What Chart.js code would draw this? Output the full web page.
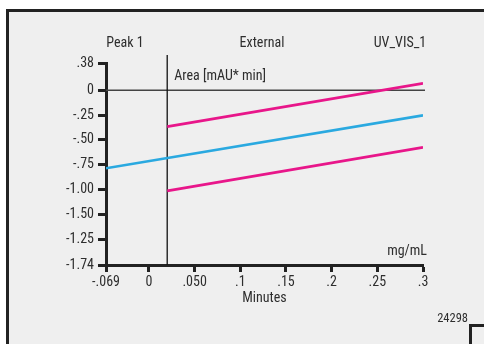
<!DOCTYPE html>
<html>
<head>
<meta charset="utf-8">
<script src="https://cdn.jsdelivr.net/npm/chart.js@4/dist/chart.umd.min.js"></script>
<style>
html,body{margin:0;padding:0;background:#fff;}
#wrap{width:484px;height:344px;position:relative;}
</style>
</head>
<body>
<div id="wrap"><canvas id="c" width="484" height="344"></canvas></div>
<script>
// ---- data ----
const xTickValues = [-0.047, 0, 0.05, 0.1, 0.15, 0.2, 0.25, 0.3];
const xTickLabels = ['-.069', '0', '.050', '.1', '.15', '.2', '.25', '.3'];
const yTickValues = [0.275, 0, -0.25, -0.5, -0.75, -1.0, -1.25, -1.5, -1.76];
const yTickLabels = ['.38', '0', '-.25', '-.50', '-.75', '-1.00', '-1.50', '-1.25', '-1.74'];
const upperX = [0.02, 0.3];
const upperY = [-0.366, 0.07];
const centerX = [-0.047, 0.3];
const centerY = [-0.785, -0.252];
const lowerX = [0.02, 0.3];
const lowerY = [-1.014, -0.574];
const markerX = 0.02;
const headerLabels = ['Peak 1', 'External', 'UV_VIS_1'];
const areaLabel = 'Area [mAU* min]';
const unitLabel = 'mg/mL';
const xTitle = 'Minutes';
const figId = '24298';

const FONT = '"Roboto Condensed", "DejaVu Sans Condensed", sans-serif';
const TXT = '#2e2e2e';
const MAGENTA = '#e8168a';
const BLUE = '#2aa9e0';

const pts = (xs, ys) => xs.map((x, i) => ({x: x, y: ys[i]}));

const framePlugin = {
  id: 'frame',
  beforeDraw(chart) {
    const ctx = chart.ctx;
    ctx.save();
    ctx.fillStyle = '#ffffff';
    ctx.fillRect(0, 0, chart.width, chart.height);
    ctx.fillStyle = '#efefef';
    ctx.fillRect(7, 10, chart.width, chart.height);
    ctx.strokeStyle = '#222';
    ctx.lineWidth = 3;
    ctx.beginPath();
    ctx.moveTo(7.5, chart.height + 5);
    ctx.lineTo(7.5, 10.5);
    ctx.lineTo(chart.width + 5, 10.5);
    ctx.stroke();
    // small box at bottom right
    ctx.beginPath();
    ctx.moveTo(470.5, chart.height + 5);
    ctx.lineTo(470.5, 325.5);
    ctx.lineTo(chart.width + 5, 325.5);
    ctx.stroke();
    ctx.restore();
  },
  beforeDatasetsDraw(chart) {
    const ctx = chart.ctx;
    const xs = chart.scales.x, ys = chart.scales.y;
    const a = chart.chartArea;
    ctx.save();
    const y0 = ys.getPixelForValue(0);
    ctx.strokeStyle = '#444';
    ctx.lineWidth = 1.6;
    ctx.beginPath();
    ctx.moveTo(a.left, y0);
    ctx.lineTo(a.right + 2, y0);
    ctx.stroke();
    const xm = xs.getPixelForValue(markerX);
    ctx.strokeStyle = '#111';
    ctx.lineWidth = 1.3;
    ctx.beginPath();
    ctx.moveTo(xm, a.top - 8);
    ctx.lineTo(xm, a.bottom);
    ctx.stroke();
    ctx.restore();
  },
  afterDraw(chart) {
    const ctx = chart.ctx;
    const xs = chart.scales.x;
    const a = chart.chartArea;
    ctx.save();
    ctx.fillStyle = TXT;
    ctx.textBaseline = 'middle';
    ctx.font = '14px ' + FONT;
    ctx.textAlign = 'center';
    ctx.fillText(headerLabels[0], 125, 43);
    ctx.fillText(headerLabels[1], 262, 43);
    ctx.fillText(headerLabels[2], 400, 43);
    ctx.textAlign = 'left';
    ctx.fillText(areaLabel, xs.getPixelForValue(markerX) + 7, 76);
    ctx.textAlign = 'right';
    ctx.fillText(unitLabel, a.right + 4, 251);
    ctx.font = '12.5px ' + FONT;
    ctx.fillText(figId, 468, 319);
    ctx.restore();
  }
};

new Chart(document.getElementById('c'), {
  type: 'line',
  data: {
    datasets: [
      {data: pts(upperX, upperY), borderColor: MAGENTA, borderWidth: 2.8},
      {data: pts(centerX, centerY), borderColor: BLUE, borderWidth: 2.6},
      {data: pts(lowerX, lowerY), borderColor: MAGENTA, borderWidth: 2.8}
    ]
  },
  options: {
    responsive: false,
    animation: false,
    events: [],
    layout: {padding: {left: 0, right: 61, top: 63, bottom: 37}},
    elements: {point: {radius: 0}, line: {tension: 0, borderCapStyle: 'butt'}},
    plugins: {legend: {display: false}, tooltip: {enabled: false}},
    scales: {
      x: {
        type: 'linear',
        min: -0.047, max: 0.3,
        afterBuildTicks(s) { s.ticks = xTickValues.map(v => ({value: v})); },
        afterFit(s) { s.height = 42; },
        ticks: {
          autoSkip: false, maxRotation: 0, padding: 2,
          color: TXT, font: {family: FONT, size: 14},
          callback(v, i) { return xTickLabels[i]; }
        },
        grid: {drawOnChartArea: false, drawTicks: true, tickLength: 7, tickWidth: 3, tickColor: '#222'},
        border: {display: true, color: '#222', width: 3},
        title: {display: true, text: xTitle, color: TXT, font: {family: FONT, size: 14}, padding: 0}
      },
      y: {
        type: 'linear',
        min: -1.76, max: 0.275,
        afterBuildTicks(s) { s.ticks = yTickValues.map(v => ({value: v})); },
        afterFit(s) { s.width = 106; },
        ticks: {
          autoSkip: false, padding: 4,
          color: TXT, font: {family: FONT, size: 14},
          callback(v, i) { return yTickLabels[i]; }
        },
        grid: {drawOnChartArea: false, drawTicks: true, tickLength: 8, tickWidth: 3, tickColor: '#222'},
        border: {display: true, color: '#222', width: 3}
      }
    }
  },
  plugins: [framePlugin]
});
</script>
</body>
</html>
